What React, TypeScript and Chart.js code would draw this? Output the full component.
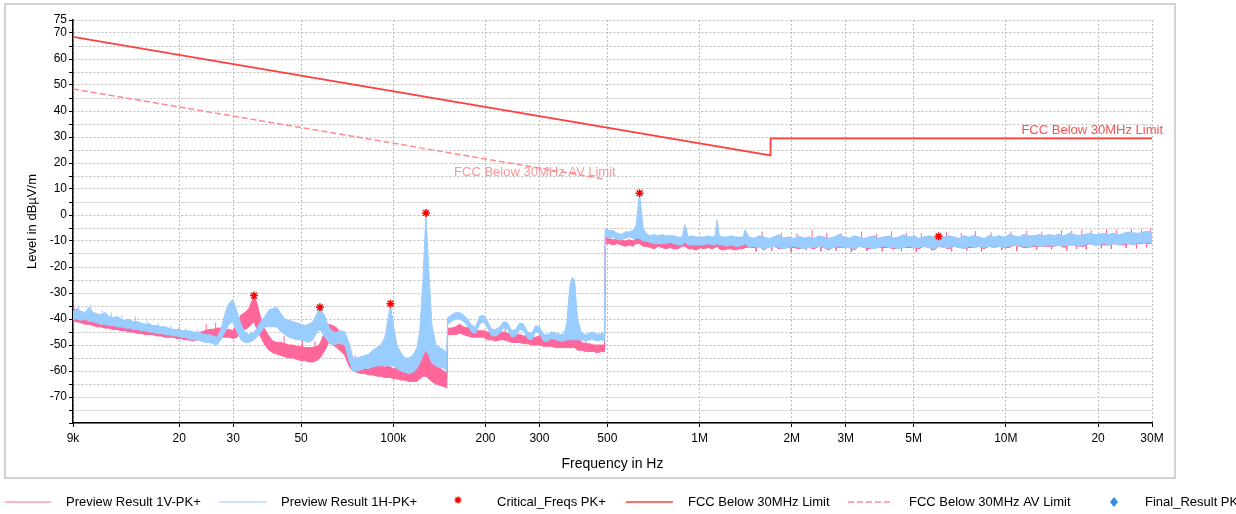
import React, { useEffect, useRef } from 'react';
import { Chart, registerables } from 'chart.js';

Chart.register(...registerables);

// ---------- data (frequencies in kHz, levels in dBµV/m) ----------
const FREQ_KHZ = [
  // 9 kHz - 150 kHz
  9, 9.27, 9.56, 9.85, 10.15, 10.46, 10.78, 11.11, 11.45, 11.8,
  12.16, 12.53, 12.91, 13.3, 13.71, 14.13, 14.56, 15, 15.46, 15.93,
  16.42, 16.92, 17.44, 17.97, 18.52, 19.08, 19.66, 20.26, 20.88, 21.52,
  22.18, 22.85, 23.55, 24.27, 25.01, 25.77, 26.56, 27.37, 28.2, 29.06,
  29.95, 30.86, 31.81, 32.78, 33.78, 35.1, 35.87, 36.97, 38.09, 39.26,
  40.45, 41.69, 42.96, 44.27, 45.62, 47.01, 48.45, 49.93, 51.45, 53.02,
  54.64, 56.31, 57.6, 59.8, 61.62, 63.5, 65.44, 67.44, 69.5, 71.62,
  73.8, 76.06, 78.38, 80.77, 83.24, 85.78, 88.4, 91.1, 93.88, 96.2,
  97.9, 99.7, 102.7, 105.9, 109.1, 112.4, 115.9, 119.4, 122, 125,
  127.8, 130.7, 133.6, 137.7, 142, 146.3, 149.5,
  // 150 kHz - 490 kHz
  150.5, 154.7, 159.7, 164.6, 169.6, 174.8, 180.2, 185.7, 191.4, 197.2,
  203.2, 209.5, 215.9, 222.5, 229.3, 236.3, 243.5, 250.9, 258.6, 266.5,
  274.6, 283, 291.6, 300.5, 309.7, 319.2, 328.9, 339, 349.3, 360,
  368.2, 376.5, 383.5, 390.6, 399.5, 411.6, 424.2, 437.2, 450.5, 464.3,
  478.5, 489.5,
  // 490 kHz - 1.45 MHz
  492, 507, 522, 538, 555, 571, 589, 607, 620, 637,
  654, 669, 689, 711, 732, 755, 778, 801, 826, 851,
  877, 897, 918, 946, 975, 1003, 1035, 1066, 1099, 1124,
  1141, 1159, 1194, 1230, 1268, 1306, 1346, 1387, 1408,
  // 1.45 MHz - 30 MHz
  1449, 1505, 1562, 1622, 1684, 1749, 1816, 1885, 1957, 2032,
  2110, 2191, 2275, 2362, 2453, 2547, 2644, 2746, 2851, 2960,
  3074, 3191, 3314, 3441, 3573, 3710, 3852, 4000, 4153, 4312,
  4477, 4649, 4827, 5012, 5204, 5404, 5611, 5826, 6030, 6281,
  6522, 6772, 7031, 7301, 7581, 7871, 8173, 8486, 8811, 9149,
  9500, 9864, 10242, 10634, 11042, 11465, 11904, 12361, 12834, 13326,
  13837, 14367, 14918, 15489, 16083, 16699, 17339, 18004, 18694, 19410,
  20154, 20927, 21729, 22561, 23426, 24324, 25256, 26224, 27229, 28273,
  29356, 30000,
];

// Preview Result 1V-PK+ (lower / upper edge of the noise band)
const V_LO = [
  -41, -41, -41.5, -42, -42, -42.5, -43, -43, -43.5, -43.5,
  -44, -44, -44.5, -44.5, -45, -45, -45.5, -45.5, -46, -46,
  -46, -46.5, -46.5, -47, -47, -47, -47.5, -47.5, -48, -48,
  -48.5, -48, -48, -48, -47.5, -47.5, -47, -47, -47, -47,
  -47.5, -47, -45, -44, -43, -41, -44, -47, -50, -52,
  -53, -53.5, -54, -54.5, -55, -55, -55.5, -56, -56, -56.5,
  -56.5, -56, -55, -52, -49, -50, -51, -52.5, -54, -58,
  -60, -60.5, -61, -61, -61.5, -61.5, -62, -62, -62.5, -62.5,
  -62.5, -63, -63, -63.5, -63.5, -64, -64, -64, -63, -62,
  -62, -63, -64, -65, -65.5, -66, -66.5,
  -46, -46, -46, -45.5, -46, -46.5, -47, -47, -47, -47,
  -48, -48, -48.5, -48, -48, -48.5, -49, -49, -49, -49.5,
  -49.5, -50, -50, -50, -50.5, -50.5, -50.5, -51, -51, -51,
  -51, -51, -51, -51, -52, -52, -52.5, -52.5, -52.5, -53,
  -52.5, -52.5,
  -11, -11, -11.5, -11, -11.5, -12, -11.5, -12, -11, -11,
  -12, -12, -12.5, -13, -12, -12.5, -13, -12.5, -13, -13,
  -12, -12, -13, -13, -13.5, -12.5, -13, -12.5, -13, -12.5,
  -12, -13, -13.5, -13, -13, -13.5, -13, -13, -12.5,
  -12.5, -12.5, -12, -13.5, -12, -12, -13, -12.5, -12.5, -12.5,
  -13, -12.5, -12.5, -13, -12, -12.5, -13.5, -12, -12.5, -12.5,
  -12.5, -13.5, -12, -12.5, -13, -12.5, -12.5, -12.5, -12.5, -13,
  -12.5, -12.5, -12.5, -12.5, -13, -12, -12.5, -13.5, -12, -12.5,
  -13, -12, -12.5, -12.5, -12.5, -12.5, -12, -13, -12, -12.5,
  -12, -12.5, -12.5, -11.5, -12, -12.5, -12.5, -12, -12, -12,
  -12, -12, -11.5, -12.5, -11.5, -11.5, -12, -12, -11, -11.5,
  -11.5, -11.5, -11.5, -11, -11.5, -11.5, -11, -11.5, -11, -11,
  -11, -11,
];
const V_HI = [
  -38, -36, -39, -39.5, -38.5, -40, -39.5, -40.5, -40, -41,
  -41, -41.5, -41.5, -42, -42, -42.5, -42, -43, -43, -43.5,
  -43, -44, -43.5, -44, -44.5, -44.5, -45, -44.5, -45, -45,
  -45.5, -45.5, -45, -44.5, -44, -44, -43.5, -43.5, -44, -44,
  -44.5, -42, -38.5, -37.5, -36, -31, -34, -40, -44, -46.5,
  -48.5, -49, -49, -49.5, -50, -50, -50.5, -50.5, -51, -51,
  -51, -50.5, -49.5, -45, -42, -42.5, -43.5, -45.5, -47, -52,
  -56, -56.5, -57, -57.5, -57.5, -57, -56, -58, -58.5, -58,
  -58.5, -59, -59, -59.5, -60, -60, -60, -59, -55, -45,
  -22, -40, -52, -58, -59, -60, -61,
  -43.5, -43.5, -43, -42, -43, -43.5, -44, -44.5, -44.5, -44.5,
  -45, -45.5, -45.5, -45, -45, -45.5, -46, -46, -46, -46.5,
  -46.5, -47, -47, -46.5, -47, -47.5, -47.5, -48, -48, -48,
  -46, -36, -30, -33, -45, -49, -49.5, -49.5, -50, -50,
  -50, -50,
  -8.5, -9, -9.5, -9, -9.5, -10, -9.5, -10, -9, 4,
  -8, -9.5, -10, -10, -9.5, -10, -10.5, -10, -10.5, -10,
  -9.5, -8, -10.5, -10.5, -10, -9.5, -10.5, -10, -10.5, -10,
  -7, -10, -10.5, -10, -10.5, -10.5, -10, -10, -9.5,
  -9, -9, -8.5, -8.5, -9.5, -8.5, -8, -9, -8.5, -9.5,
  -8.5, -9, -8.5, -9.5, -8.5, -8.5, -9, -9, -8, -8.5,
  -9, -8.5, -8.5, -9.5, -8.5, -8.5, -9, -8.5, -8.5, -9,
  -8.5, -8, -9, -8, -9.5, -8.5, -8.5, -8.5, -9.5, -8.5,
  -8.5, -8.5, -9.5, -8, -9, -8, -8.5, -9.5, -8, -9,
  -8, -9, -8, -8, -9, -7.5, -8.5, -8, -8, -8.5,
  -8, -8, -7.5, -8.5, -7, -8, -8, -7.5, -7.5, -7.5,
  -7.5, -7.5, -7.5, -7, -8, -7, -7, -7, -7.5, -6.5,
  -6.5, -7,
];

// Preview Result 1H-PK+ (lower / upper edge of the noise band)
const H_LO = [
  -40, -40, -40.5, -40, -41, -41, -41.5, -42, -42, -42.5,
  -42.5, -43, -43, -43.5, -43.5, -44, -44, -44.5, -44.5, -45,
  -45, -45.5, -45.5, -46, -46, -46.5, -46.5, -47, -47, -47.5,
  -48, -48, -48.5, -49, -49, -49.5, -50, -48, -45, -42,
  -41, -45, -48, -49, -49, -48, -47, -45, -43, -43,
  -43, -43, -45, -46, -47, -47.5, -48, -48, -48.5, -49,
  -48, -45, -44, -47, -49, -50, -49.5, -49.5, -50, -56,
  -60, -60, -59.5, -59, -59, -58.5, -58, -58, -58, -58,
  -58, -58, -59, -60, -60.5, -61, -60.5, -59, -57, -54,
  -52, -54, -57, -58, -58.5, -59, -60,
  -42, -41, -40, -40, -41, -42.5, -45, -45.5, -42, -41,
  -43.5, -46.5, -46.5, -45.5, -43.5, -44, -47, -46.5, -44, -44.5,
  -47.5, -48, -45, -45.5, -48.5, -48.5, -47.5, -48, -48.5, -48.5,
  -48, -48, -48, -48, -48, -48, -48.5, -48, -48, -48.5,
  -48, -48.5,
  -8, -9, -8.5, -9.5, -9.5, -9, -8.5, -9, -9, -9,
  -10, -10, -10.5, -11, -11, -11, -11, -10.5, -11, -11.5,
  -11.5, -10.5, -11.5, -11.5, -11.5, -11.5, -11.5, -11, -11.5, -11.5,
  -11, -11.5, -11.5, -12, -11.5, -12, -12, -11.5, -11,
  -12.5, -12, -12.5, -13, -12.5, -12, -12.5, -13, -12.5, -12,
  -12.5, -13, -12.5, -12.5, -12, -12.5, -13, -12.5, -12, -12.5,
  -12.5, -13, -12, -12.5, -12.5, -13, -12.5, -12, -12.5, -12.5,
  -13, -12.5, -12, -12.5, -12.5, -12, -12.5, -13, -12, -12.5,
  -12.5, -12, -12.5, -13, -12, -12.5, -12, -12.5, -12, -12.5,
  -12, -12.5, -12, -11.5, -12, -12, -12.5, -11.5, -12, -12,
  -11.5, -12, -11.5, -12, -11.5, -11.5, -12, -11.5, -11, -11.5,
  -11.5, -11, -11.5, -11, -11.5, -11, -11, -11.5, -10.5, -11,
  -10.5, -11,
];
const H_HI = [
  -37, -36.5, -37, -37.5, -35.5, -37.5, -38, -38.5, -37.5, -39,
  -39.5, -39, -40, -40.5, -40, -41, -41, -41.5, -42, -42,
  -42.5, -42.5, -43, -43, -43.5, -44, -44, -44.5, -44.5, -44.5,
  -45, -45, -45.5, -46, -46, -46.5, -47, -44, -38, -34,
  -32.5, -37, -42, -45, -46, -45, -43.5, -41, -39, -36.5,
  -36, -35.5, -38, -40, -40.5, -41, -41.5, -42, -42.5, -42,
  -41, -38, -35.5, -39, -43, -45, -45, -44.5, -45, -49,
  -55, -55, -54.5, -54, -53.5, -52, -51, -50, -47, -40,
  -34.5, -41, -50, -53, -55, -55, -54, -51, -45, -25,
  0.8, -22, -42, -50, -51, -52, -53,
  -39.5, -38.5, -37.5, -37.5, -38.5, -40, -42.5, -43, -39, -38.5,
  -41, -44, -44, -43, -41, -41.5, -44.5, -44, -41.5, -42,
  -45, -45.5, -42.5, -43, -46, -46, -45, -45.5, -46, -46,
  -42, -28, -24, -25, -40, -45.5, -46, -45.5, -45, -46,
  -45.5, -46,
  -5.5, -6, -6, -7, -7.5, -6.5, -6.5, -6, -4, 8.5,
  -5, -7, -8, -7.5, -8, -7.5, -8, -8, -8, -8.5,
  -8.5, -3.7, -8.5, -8, -8.5, -8.5, -8.5, -8, -8.5, -8,
  -1.8, -8, -8.5, -8.5, -8, -8.5, -8.5, -8.5, -5.6,
  -8.5, -9, -8, -8.5, -9, -8.5, -7.5, -9, -8.5, -9,
  -8, -9, -8.5, -9, -8, -8.5, -9, -8.5, -7.5, -8.5,
  -9, -8, -8.5, -9, -8.5, -8, -9, -8.5, -8, -9,
  -8.5, -7.5, -8.5, -8, -9, -8.5, -8, -8.5, -9, -8.5,
  -8, -8.5, -9, -8, -8.5, -8, -8.5, -9, -8, -8.5,
  -8, -8.5, -7.5, -8, -8.5, -7.5, -8, -8, -7.5, -8,
  -7.5, -8, -7.5, -8, -7, -7.5, -8, -7.5, -7, -7.5,
  -7.5, -7, -7.5, -7, -7.5, -7, -6.5, -7, -7, -6.5,
  -6.5, -7,
];

// single noise spikes (needles) that stick out of the bands
const V_SPIKE_KHZ = [
  9.1, 12.7, 16, 20, 24.5, 26.3, 44, 50.5, 55.5, 75, 80, 86.5,
  175, 232, 300, 345, 425,
  1530, 1600, 1720, 1850, 1990, 2080, 2230, 2330, 2490, 2600, 2790, 2900,
  3130, 3380, 3520, 3780, 3950, 4230, 4560, 4740, 5100, 5300, 5720, 6400,
  6650, 7150, 7450, 7950, 8330, 8950, 9700, 10400, 10850, 11700, 12600, 13100,
  14100, 15200, 15800, 16400, 17000, 17700, 18300, 19000, 20500, 21300, 22100, 23000,
  24700, 25700, 26700, 27700, 28800, 29700,
];
const V_SPIKE_BASE = [
  -39.5, -42.5, -44.5, -46, -46, -45.5, -51, -52, -53.5, -58, -59, -59.5,
  -45, -47, -48.5, -49, -51,
  -10, -10, -10, -10, -10, -10, -10, -10, -10, -10, -10, -10,
  -10, -10, -10, -10, -10, -10, -10, -10, -10, -10, -10, -10,
  -10, -10, -10, -10, -10, -10, -10, -10, -10, -10, -10, -10,
  -10, -10, -10, -10, -9.5, -9.5, -9.5, -9.5, -9.5, -9.5, -9.5, -9.5,
  -9.5, -9.5, -9.5, -9.5, -9.5, -9.5,
];
const V_SPIKE_TIP = [
  -36, -39.5, -41.5, -43, -42, -41.5, -46.5, -47.5, -48.5, -54, -55, -54.5,
  -41.5, -43, -44.5, -45.5, -47,
  -14, -6.5, -13.8, -6.8, -14.2, -7, -13.5, -5.8, -14, -6.8, -13.7, -7,
  -14.3, -6.5, -13.8, -7.2, -14, -6.3, -13.9, -6.8, -14.3, -7, -13.6, -6.6,
  -14, -6.9, -13.7, -6.2, -14.1, -6.7, -13.5, -6.4, -13.9, -6.1, -13.4, -6.5,
  -13.2, -5.8, -13.6, -6, -12.9, -5.6, -13.3, -5.9, -12.8, -5.5, -13, -5.7,
  -12.6, -5.3, -12.8, -5.5, -12.4, -5.2,
];
const H_SPIKE_KHZ = [9.4, 10.3, 11.2, 12, 13, 14.4, 15.7, 17.1, 18.8, 21, 23];
const H_SPIKE_BASE = [-38.5, -39, -40, -41, -41.5, -42.5, -43.5, -44, -45, -46, -46.5];
const H_SPIKE_TIP = [-35, -34.5, -36.5, -37.5, -38.5, -39, -40.5, -41.5, -42.5, -43.5, -44];

// Critical_Freqs PK+
const CRIT_KHZ = [35.1, 57.6, 97.9, 127.8, 637, 6030];
const CRIT_DB = [-31, -35.5, -34.1, 0.8, 8.4, -8.2];

// FCC limits
const LIMIT_KHZ = [9, 1705, 1705, 30000];
const LIMIT_DB = [68.5, 22.95, 29.5, 29.5];
const AV_KHZ = [9, 490];
const AV_DB = [48.5, 13.8];

// axes
const X_TICKS = [9, 20, 30, 50, 100, 200, 300, 500, 1000, 2000, 3000, 5000, 10000, 20000, 30000];
const X_LABELS = ['9k', '20', '30', '50', '100k', '200', '300', '500', '1M', '2M', '3M', '5M', '10M', '20', '30M'];
const Y_TICKS = [-80, -75, -70, -65, -60, -55, -50, -45, -40, -35, -30, -25, -20, -15, -10, -5, 0, 5, 10, 15, 20, 25, 30, 35, 40, 45, 50, 55, 60, 65, 70, 75];
const Y_LABELED = [-70, -60, -50, -40, -30, -20, -10, 0, 10, 20, 30, 40, 50, 60, 70, 75];
const X_TITLE = 'Frequency in Hz';
const Y_TITLE = 'Level in dBµV/m';
const LIMIT_LABEL = 'FCC Below 30MHz Limit';
const AV_LABEL = 'FCC Below 30MHz AV Limit';
const LEGEND_LABELS = [
  'Preview Result 1V-PK+',
  'Preview Result 1H-PK+',
  'Critical_Freqs PK+',
  'FCC Below 30MHz Limit',
  'FCC Below 30MHz AV Limit',
  'Final_Result PK+',
];

// ---------- styles ----------
const FONT = '"Liberation Sans", Arial, Helvetica, sans-serif';
const PINK = 'rgb(255,102,153)';
const BLUE = 'rgb(153,204,255)';
const LIMIT_RED = 'rgb(255,64,64)';
const AV_PINK = 'rgb(255,140,140)';
const STAR_RED = 'rgb(255,0,0)';
const DIAMOND_BLUE = 'rgb(51,141,230)';
const GRID = '#bdbdbd';

function toPoints(xs: number[], ys: number[]) {
  const n = Math.min(xs.length, ys.length);
  const out: { x: number; y: number }[] = [];
  for (let i = 0; i < n; i++) out.push({ x: xs[i], y: ys[i] });
  return out;
}

function toNeedles(xs: number[], base: number[], tip: number[]) {
  const n = Math.min(xs.length, base.length, tip.length);
  const out: { x: number; y: number | null }[] = [];
  for (let i = 0; i < n; i++) {
    out.push({ x: xs[i], y: base[i] });
    out.push({ x: xs[i], y: tip[i] });
    out.push({ x: xs[i], y: null });
  }
  return out;
}

function drawStar(ctx: CanvasRenderingContext2D, x: number, y: number, r: number) {
  const d = r * 0.7071;
  ctx.beginPath();
  ctx.moveTo(x - r, y); ctx.lineTo(x + r, y);
  ctx.moveTo(x, y - r); ctx.lineTo(x, y + r);
  ctx.moveTo(x - d, y - d); ctx.lineTo(x + d, y + d);
  ctx.moveTo(x - d, y + d); ctx.lineTo(x + d, y - d);
  ctx.stroke();
}

const LEGEND_Y = 502;
const LEGEND_LAYOUT = [
  { kind: 'line', color: PINK, x0: 5, x1: 51, tx: 66, width: 1 },
  { kind: 'line', color: BLUE, x0: 219, x1: 267, tx: 281, width: 1 },
  { kind: 'star', color: STAR_RED, cx: 458, tx: 497 },
  { kind: 'line', color: LIMIT_RED, x0: 626, x1: 673, tx: 688, width: 1.5 },
  { kind: 'dash', color: AV_PINK, x0: 848, x1: 891, tx: 909, width: 1.5 },
  { kind: 'diamond', color: DIAMOND_BLUE, cx: 1114, tx: 1145 },
];

const decorPlugin = {
  id: 'decor',
  afterDraw(chart: any) {
    const ctx: CanvasRenderingContext2D = chart.ctx;
    const xs = chart.scales.x;
    const ys = chart.scales.y;
    ctx.save();
    // outer frame
    ctx.strokeStyle = '#c4c4c4';
    ctx.lineWidth = 1.5;
    ctx.strokeRect(5, 4, 1170, 474);

    // limit labels
    ctx.font = `13px ${FONT}`;
    ctx.textBaseline = 'middle';
    ctx.textAlign = 'right';
    ctx.fillStyle = 'rgb(255,80,80)';
    const li = LIMIT_KHZ.length - 1;
    ctx.fillText(LIMIT_LABEL, xs.getPixelForValue(LIMIT_KHZ[li]) + 11, ys.getPixelForValue(LIMIT_DB[li]) - 8);
    ctx.fillStyle = 'rgb(255,150,150)';
    const ai = AV_KHZ.length - 1;
    ctx.fillText(AV_LABEL, xs.getPixelForValue(AV_KHZ[ai]) + 11, ys.getPixelForValue(AV_DB[ai]) - 7);

    // legend
    ctx.textAlign = 'left';
    LEGEND_LAYOUT.forEach((it: any, i: number) => {
      ctx.save();
      ctx.strokeStyle = it.color;
      ctx.fillStyle = it.color;
      if (it.kind === 'line' || it.kind === 'dash') {
        ctx.lineWidth = it.width;
        ctx.setLineDash(it.kind === 'dash' ? [6, 3] : []);
        ctx.beginPath();
        ctx.moveTo(it.x0, LEGEND_Y);
        ctx.lineTo(it.x1, LEGEND_Y);
        ctx.stroke();
      } else if (it.kind === 'star') {
        ctx.lineWidth = 1.5;
        drawStar(ctx, it.cx, LEGEND_Y - 2, 3.5);
      } else if (it.kind === 'diamond') {
        ctx.beginPath();
        ctx.moveTo(it.cx, LEGEND_Y - 5);
        ctx.lineTo(it.cx + 4, LEGEND_Y);
        ctx.lineTo(it.cx, LEGEND_Y + 5);
        ctx.lineTo(it.cx - 4, LEGEND_Y);
        ctx.closePath();
        ctx.fill();
      }
      ctx.restore();
      ctx.fillStyle = '#000';
      ctx.font = `13px ${FONT}`;
      ctx.textBaseline = 'middle';
      ctx.fillText(LEGEND_LABELS[i], it.tx, LEGEND_Y);
    });
    ctx.restore();
  },
};

export default function App() {
  const ref = useRef<HTMLCanvasElement | null>(null);

  useEffect(() => {
    document.body.style.margin = '0';
    if (!ref.current) return;

    const lineBase = {
      pointRadius: 0,
      pointHoverRadius: 0,
      pointHitRadius: 0,
      tension: 0,
      borderWidth: 1,
    };

    const chart = new Chart(ref.current, {
      type: 'line',
      data: {
        datasets: [
          {
            ...lineBase,
            label: 'crit',
            data: toPoints(CRIT_KHZ, CRIT_DB),
            showLine: false,
            pointStyle: 'star',
            pointRadius: 4,
            pointBorderColor: STAR_RED,
            pointBackgroundColor: STAR_RED,
            pointBorderWidth: 1.5,
            borderColor: STAR_RED,
            order: 0,
          },
          {
            ...lineBase,
            label: 'limit',
            data: toPoints(LIMIT_KHZ, LIMIT_DB),
            borderColor: LIMIT_RED,
            borderWidth: 1.8,
            fill: false,
            order: 1,
          },
          {
            ...lineBase,
            label: 'av',
            data: toPoints(AV_KHZ, AV_DB),
            borderColor: AV_PINK,
            borderWidth: 1.5,
            borderDash: [6, 3],
            fill: false,
            order: 1,
          },
          {
            ...lineBase,
            label: 'H hi',
            data: toPoints(FREQ_KHZ, H_HI),
            borderColor: BLUE,
            backgroundColor: BLUE,
            fill: '+1',
            order: 2,
          },
          {
            ...lineBase,
            label: 'H lo',
            data: toPoints(FREQ_KHZ, H_LO),
            borderColor: BLUE,
            fill: false,
            order: 2,
          },
          {
            ...lineBase,
            label: 'H spikes',
            data: toNeedles(H_SPIKE_KHZ, H_SPIKE_BASE, H_SPIKE_TIP),
            borderColor: BLUE,
            fill: false,
            spanGaps: false,
            order: 2,
          },
          {
            ...lineBase,
            label: 'V hi',
            data: toPoints(FREQ_KHZ, V_HI),
            borderColor: PINK,
            backgroundColor: PINK,
            fill: '+1',
            order: 3,
          },
          {
            ...lineBase,
            label: 'V lo',
            data: toPoints(FREQ_KHZ, V_LO),
            borderColor: PINK,
            fill: false,
            order: 3,
          },
          {
            ...lineBase,
            label: 'V spikes',
            data: toNeedles(V_SPIKE_KHZ, V_SPIKE_BASE, V_SPIKE_TIP),
            borderColor: PINK,
            fill: false,
            spanGaps: false,
            order: 3,
          },
        ],
      },
      options: {
        responsive: false,
        animation: false,
        events: [],
        layout: { padding: { left: 13, top: 20, right: 84, bottom: 40 } },
        plugins: {
          legend: { display: false },
          tooltip: { enabled: false },
        },
        scales: {
          x: {
            type: 'logarithmic',
            min: 9,
            max: 30000,
            afterBuildTicks: (s: any) => {
              s.ticks = X_TICKS.map((v) => ({ value: v }));
            },
            afterFit: (s: any) => {
              s.height = 51;
            },
            ticks: {
              autoSkip: false,
              maxRotation: 0,
              minRotation: 0,
              padding: 4,
              color: '#000',
              font: { size: 12, family: FONT },
              callback: (v: any) => {
                const i = X_TICKS.indexOf(Number(v));
                return i >= 0 ? X_LABELS[i] : '';
              },
            },
            grid: { color: GRID, lineWidth: 1, tickLength: 4, tickColor: '#000', tickWidth: 1 },
            border: { display: true, color: '#000', width: 1.5, dash: [2, 2] },
            title: {
              display: true,
              text: X_TITLE,
              color: '#000',
              font: { size: 14, family: FONT },
              padding: { top: 0, bottom: 1 },
            },
          },
          y: {
            type: 'linear',
            min: -80,
            max: 75,
            afterBuildTicks: (s: any) => {
              s.ticks = Y_TICKS.map((v) => ({ value: v }));
            },
            afterFit: (s: any) => {
              s.width = 60;
            },
            ticks: {
              autoSkip: false,
              padding: 2,
              color: '#000',
              font: { size: 12, family: FONT },
              callback: (v: any) => (Y_LABELED.includes(Number(v)) ? String(v) : ''),
            },
            grid: { color: GRID, lineWidth: 1, tickLength: 4, tickColor: '#000', tickWidth: 1 },
            border: { display: true, color: '#000', width: 1.5, dash: [2, 2] },
            title: {
              display: true,
              text: Y_TITLE,
              color: '#000',
              font: { size: 13, family: FONT },
              padding: { top: 12, bottom: 0 },
            },
          },
        },
      } as any,
      plugins: [decorPlugin],
    } as any);

    return () => chart.destroy();
  }, []);

  return (
    <div style={{ position: 'absolute', left: 0, top: 0, width: 1236, height: 514, background: '#fff' }}>
      <canvas ref={ref} width={1236} height={514} style={{ display: 'block' }} />
    </div>
  );
}
